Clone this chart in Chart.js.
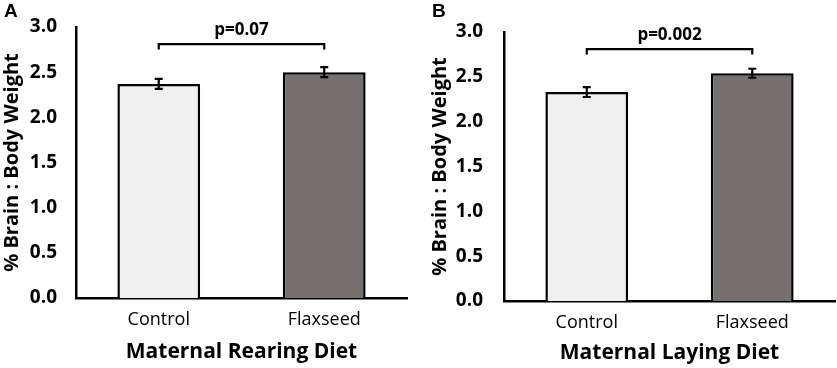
<!DOCTYPE html>
<html lang="en">
<head>
<meta charset="UTF-8">
<title>% Brain : Body Weight</title>
<script src="https://cdn.jsdelivr.net/npm/chart.js"></script>
<style>
  body {
    margin: 0;
    background: #fff;
    width: 837px;
    height: 368px;
    position: relative;
    overflow: hidden;
  }
  .panel { position: absolute; top: 0; height: 368px; }
  .letter {
    position: absolute;
    top: 1px;
    font: bold 19px 'Liberation Sans', Arial, sans-serif;
    line-height: 19px;
    color: #000;
  }
</style>
</head>
<body>
<div class="panel" style="left:0;width:420px">
  <canvas id="chartA" width="420" height="368"></canvas>
  <div class="letter" style="left:4px">A</div>
</div>
<div class="panel" style="left:420px;width:417px">
  <canvas id="chartB" width="417" height="368"></canvas>
  <div class="letter" style="left:12px">B</div>
</div>

<script>
// data
const categories = ['Control', 'Flaxseed'];
const yTickValues = [0, 0.5, 1.0, 1.5, 2.0, 2.5, 3.0];

const rearingMeans = [2.37, 2.50];
const rearingErrors = [0.055, 0.055];
const rearingP = 'p=0.07';

const layingMeans = [2.33, 2.54];
const layingErrors = [0.055, 0.05];
const layingP = 'p=0.002';

const bracketLevel = 2.81;
const bracketFoot = 2.75;
const pTextLevel = 2.97;

const barFill = ['#f0f0f0', '#767071'];
const FONT = "'Open Sans', sans-serif";

function makePanel(id, means, errors, xTitle, pText, box) {
  const marks = {
    id: 'marks',
    afterDatasetsDraw(chart) {
      const ctx = chart.ctx;
      const x = chart.scales.x, y = chart.scales.y;
      ctx.save();
      ctx.strokeStyle = '#000';
      ctx.lineWidth = 2.2;
      // error bars
      means.forEach((m, i) => {
        const px = x.getPixelForValue(i);
        const top = y.getPixelForValue(m + errors[i]);
        const bot = y.getPixelForValue(m - errors[i]);
        ctx.beginPath();
        ctx.moveTo(px, top); ctx.lineTo(px, bot);
        ctx.moveTo(px - 4, top); ctx.lineTo(px + 4, top);
        ctx.moveTo(px - 4, bot); ctx.lineTo(px + 4, bot);
        ctx.stroke();
      });
      // significance bracket
      const x0 = x.getPixelForValue(0), x1 = x.getPixelForValue(1);
      const yb = y.getPixelForValue(bracketLevel), yf = y.getPixelForValue(bracketFoot);
      ctx.beginPath();
      ctx.moveTo(x0, yf); ctx.lineTo(x0, yb); ctx.lineTo(x1, yb); ctx.lineTo(x1, yf);
      ctx.stroke();
      ctx.fillStyle = '#000';
      ctx.font = 'bold 17px ' + FONT;
      ctx.textAlign = 'center';
      ctx.textBaseline = 'middle';
      ctx.fillText(pText, (x0 + x1) / 2, y.getPixelForValue(pTextLevel));
      ctx.restore();
    }
  };

  return new Chart(document.getElementById(id), {
    type: 'bar',
    data: {
      labels: categories,
      datasets: [{
        data: means,
        backgroundColor: barFill,
        borderColor: '#000',
        borderWidth: 2.5,
        barPercentage: 0.5,
        categoryPercentage: 1.0
      }]
    },
    options: {
      responsive: false,
      animation: false,
      layout: { padding: { top: box.top, right: box.right, left: 0, bottom: 0 } },
      plugins: { legend: { display: false }, tooltip: { enabled: false } },
      scales: {
        x: {
          grid: { display: false, drawTicks: false },
          border: { display: true, color: '#000', width: 2.5 },
          ticks: { color: '#000', font: { family: FONT, size: 18 }, padding: 11 },
          title: {
            display: true, text: xTitle, color: '#000',
            font: { family: FONT, size: 21, weight: 'bold' },
            padding: { top: 0, bottom: box.xTitlePad }
          },
          afterFit(scale) {
            scale.height = 368 - box.bottom;
            scale.paddingLeft = 0;
            scale.paddingRight = 0;
          }
        },
        y: {
          min: 0, max: 3,
          grid: { display: false, drawTicks: false },
          border: { display: true, color: '#000', width: 2.5 },
          afterBuildTicks(scale) { scale.ticks = yTickValues.map(v => ({ value: v })); },
          ticks: {
            color: '#000', padding: box.tickPad,
            font: { family: FONT, size: 19, weight: 'bold' },
            callback: v => Number(v).toFixed(1)
          },
          title: {
            display: true, text: '% Brain : Body Weight', color: '#000',
            font: { family: FONT, size: 20, weight: 'bold' },
            padding: { top: box.yTitlePad, bottom: 0 }
          },
          afterFit(scale) {
            scale.width = box.left;
            scale.paddingTop = 0;
            scale.paddingBottom = 0;
          }
        }
      }
    },
    plugins: [marks]
  });
}

makePanel('chartA', rearingMeans, rearingErrors, 'Maternal Rearing Diet', rearingP,
  { left: 76, right: 13, top: 27, bottom: 298, tickPad: 19, yTitlePad: 0, xTitlePad: 3 });
makePanel('chartB', layingMeans, layingErrors, 'Maternal Laying Diet', layingP,
  { left: 84, right: 2, top: 32, bottom: 301, tickPad: 21, yTitlePad: 8, xTitlePad: 2 });
</script>
</body>
</html>
